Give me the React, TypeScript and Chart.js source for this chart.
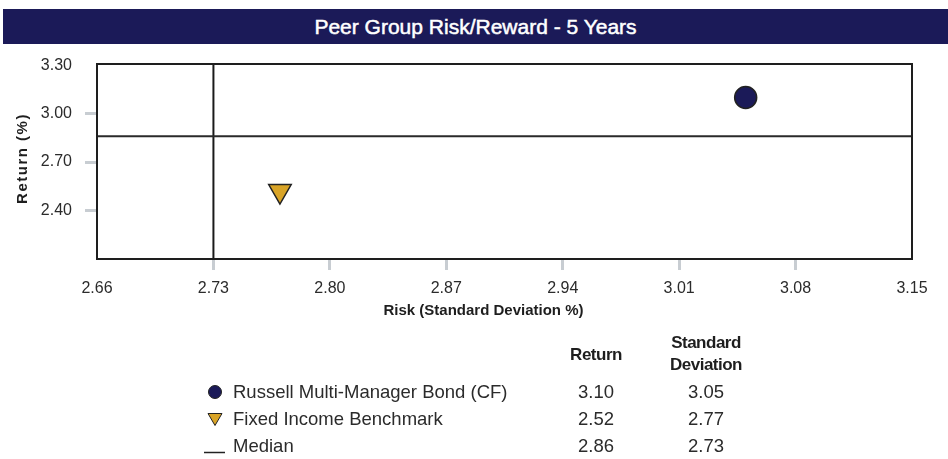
import React, { useEffect, useRef } from 'react';
import { Chart, registerables } from 'chart.js';

Chart.register(...registerables);

const chartTitle = 'Peer Group Risk/Reward - 5 Years';
const seriesNames = ['Russell Multi-Manager Bond (CF)', 'Fixed Income Benchmark', 'Median'];
const returnValues = [3.10, 2.52, 2.86];
const riskValues = [3.05, 2.77, 2.73];
const xTickValues = [2.66, 2.73, 2.80, 2.87, 2.94, 3.01, 3.08, 3.15];
const yTickValues = [2.40, 2.70, 3.00, 3.30];
const xBounds = [2.66, 3.15];
const yBounds = [2.099, 3.308];
const xAxisTitle = 'Risk (Standard Deviation %)';
const yAxisTitle = 'Return (%)';
const tableHeaders = ['Return', 'Standard', 'Deviation'];

const FONT = '"Liberation Sans", Arial, Helvetica, sans-serif';
const NAVY = '#1b1a58';
const GOLD = '#d9a427';
const TICK_GRAY = '#c8cdd2';
const TEXT = '#2b2b2b';

const framePlugin = {
  id: 'frame',
  afterDraw(chart: any) {
    const { ctx, chartArea } = chart;
    ctx.save();
    ctx.strokeStyle = '#1e1e1e';
    ctx.lineWidth = 2;
    ctx.strokeRect(chartArea.left, chartArea.top, chartArea.right - chartArea.left, chartArea.bottom - chartArea.top);
    ctx.restore();
  },
};

const axisTitlePlugin = {
  id: 'axisTitles',
  afterDraw(chart: any) {
    const { ctx, chartArea } = chart;
    ctx.save();
    ctx.fillStyle = '#1e1e1e';
    ctx.textAlign = 'center';
    ctx.textBaseline = 'middle';
    ctx.font = `bold 15px ${FONT}`;
    const cx = (chartArea.left + chartArea.right) / 2 - 21;
    ctx.fillText(xAxisTitle, cx, chartArea.bottom + 52);

    ctx.translate(chartArea.left - 74, (chartArea.top + chartArea.bottom) / 2 - 3);
    ctx.rotate(-Math.PI / 2);
    ctx.font = `bold 15px ${FONT}`;
    (ctx as any).letterSpacing = '1.5px';
    ctx.fillText(yAxisTitle, 0, 0);
    ctx.restore();
  },
};

function LegendMarker({ kind }: { kind: number }) {
  if (kind === 0) {
    return (
      <svg width="16" height="16" viewBox="0 0 16 16">
        <circle cx="8" cy="8" r="6.5" fill={NAVY} stroke="#222" strokeWidth="1" />
      </svg>
    );
  }
  if (kind === 1) {
    return (
      <svg width="16" height="16" viewBox="0 0 16 16">
        <polygon points="1,2.5 15,2.5 8,14.5" fill={GOLD} stroke="#222" strokeWidth="1" />
      </svg>
    );
  }
  return (
    <svg width="22" height="16" viewBox="0 0 22 16">
      <line x1="0" y1="14.5" x2="21" y2="14.5" stroke="#222" strokeWidth="1.5" />
    </svg>
  );
}

export default function App() {
  const canvasRef = useRef<HTMLCanvasElement | null>(null);

  useEffect(() => {
    document.body.style.margin = '0';
    const canvas = canvasRef.current;
    if (!canvas) return;
    const chart = new Chart(canvas, {
      type: 'scatter',
      data: {
        datasets: [
          {
            label: seriesNames[0],
            data: [{ x: riskValues[0], y: returnValues[0] }],
            pointStyle: 'circle',
            pointRadius: 11,
            pointHoverRadius: 11,
            pointBackgroundColor: NAVY,
            pointBorderColor: '#222',
            pointBorderWidth: 1.5,
          },
          {
            label: seriesNames[1],
            data: [{ x: riskValues[1], y: returnValues[1] }],
            pointStyle: 'triangle',
            pointRotation: 180,
            pointRadius: 13,
            pointHoverRadius: 13,
            pointBackgroundColor: GOLD,
            pointBorderColor: '#222',
            pointBorderWidth: 1.5,
          },
          {
            label: 'Median Return',
            data: [
              { x: xBounds[0], y: returnValues[2] },
              { x: xBounds[1], y: returnValues[2] },
            ],
            showLine: true,
            pointRadius: 0,
            borderColor: '#2a2a2a',
            borderWidth: 2,
          },
          {
            label: 'Median Risk',
            data: [
              { x: riskValues[2], y: yBounds[0] },
              { x: riskValues[2], y: yBounds[1] },
            ],
            showLine: true,
            pointRadius: 0,
            borderColor: '#1a1a1a',
            borderWidth: 2,
          },
        ],
      } as any,
      options: {
        animation: false,
        responsive: false,
        maintainAspectRatio: false,
        events: [],
        layout: { padding: { top: 64, right: 36, bottom: 140, left: 0 } },
        plugins: {
          legend: { display: false },
          tooltip: { enabled: false },
          title: { display: false },
        },
        scales: {
          x: {
            type: 'linear',
            position: 'bottom',
            min: xBounds[0],
            max: xBounds[1],
            afterBuildTicks: (s: any) => {
              s.ticks = xTickValues.map((v) => ({ value: v }));
            },
            afterFit: (s: any) => {
              s.height = 60;
            },
            ticks: {
              autoSkip: false,
              maxRotation: 0,
              padding: 9,
              color: TEXT,
              font: { family: FONT, size: 16 },
              callback: (v: any) => Number(v).toFixed(2),
            },
            grid: {
              drawOnChartArea: false,
              drawTicks: true,
              tickLength: 11,
              tickWidth: 3,
              tickColor: (ctx: any) =>
                ctx.index === 0 || ctx.index === xTickValues.length - 1 ? 'rgba(0,0,0,0)' : TICK_GRAY,
            },
            border: { display: false },
          },
          y: {
            type: 'linear',
            position: 'left',
            min: yBounds[0],
            max: yBounds[1],
            afterBuildTicks: (s: any) => {
              s.ticks = yTickValues.map((v) => ({ value: v }));
            },
            afterFit: (s: any) => {
              s.width = 97;
            },
            ticks: {
              autoSkip: false,
              padding: 13,
              color: TEXT,
              font: { family: FONT, size: 16 },
              callback: (v: any) => Number(v).toFixed(2),
            },
            grid: {
              drawOnChartArea: false,
              drawTicks: true,
              tickLength: 12,
              tickWidth: 3,
              tickColor: (ctx: any) =>
                ctx.index === yTickValues.length - 1 ? 'rgba(0,0,0,0)' : TICK_GRAY,
            },
            border: { display: false },
            title: { display: false },
          },
        },
      } as any,
      plugins: [framePlugin, axisTitlePlugin],
    });
    return () => chart.destroy();
  }, []);

  const rowY = [392, 419, 446];
  const colReturnX = 596;
  const colRiskX = 706;

  const centered = (x: number, y: number, extra: React.CSSProperties = {}): React.CSSProperties => ({
    position: 'absolute',
    left: x,
    top: y,
    transform: 'translate(-50%, -50%)',
    whiteSpace: 'nowrap',
    ...extra,
  });

  const headerStyle: React.CSSProperties = { fontSize: 17, fontWeight: 'bold', color: '#1e1e1e', letterSpacing: -0.5 };

  return (
    <div style={{ position: 'relative', width: 948, height: 459, fontFamily: FONT, background: '#fff', overflow: 'hidden' }}>
      <canvas ref={canvasRef} width={948} height={459} style={{ position: 'absolute', left: 0, top: 0 }} />
      <div
        style={{
          position: 'absolute',
          left: 3,
          top: 9,
          width: 945,
          height: 35,
          background: NAVY,
          color: '#fff',
          fontSize: 21,
          fontWeight: 'normal',
          WebkitTextStroke: '0.5px #fff',
          lineHeight: '35px',
          textAlign: 'center',
        }}
      >
        {chartTitle}
      </div>

      <div style={centered(colReturnX, 355, headerStyle)}>{tableHeaders[0]}</div>
      <div style={centered(colRiskX, 343, headerStyle)}>{tableHeaders[1]}</div>
      <div style={centered(colRiskX, 365, headerStyle)}>{tableHeaders[2]}</div>

      {seriesNames.map((name, i) => (
        <React.Fragment key={name}>
          <div style={{ position: 'absolute', left: i === 2 ? 204 : 207, top: rowY[i] - 8, width: 22, height: 16 }}>
            <LegendMarker kind={i} />
          </div>
          <div
            style={{
              position: 'absolute',
              left: 233,
              top: rowY[i],
              transform: 'translateY(-50%)',
              whiteSpace: 'nowrap',
              fontSize: 18.5,
              color: TEXT,
            }}
          >
            {name}
          </div>
          <div style={centered(colReturnX, rowY[i], { fontSize: 18.5, color: TEXT })}>{returnValues[i].toFixed(2)}</div>
          <div style={centered(colRiskX, rowY[i], { fontSize: 18.5, color: TEXT })}>{riskValues[i].toFixed(2)}</div>
        </React.Fragment>
      ))}
    </div>
  );
}
